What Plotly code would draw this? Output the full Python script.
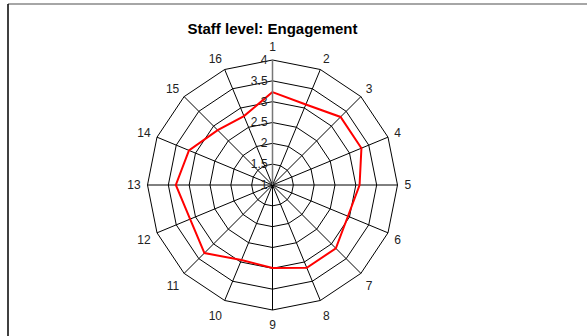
import plotly.graph_objects as go

# Engagement scores for the 16 staff-level items
items = [str(i) for i in range(1, 17)]
scores = [3.23, 3.09, 3.31, 3.31, 3.09, 2.96, 3.15, 3.15,
          2.99, 2.95, 3.31, 3.14, 3.32, 3.17, 2.86, 2.79]

# Radial scale ticks
radial_ticks = [1, 1.5, 2, 2.5, 3, 3.5, 4]
radial_labels = ["1", "1.5", "2", "2.5", "3", "3.5", "4"]

W, H = 587, 336
cx, cy, R = 272.5, 185, 125

fig = go.Figure()
fig.add_trace(go.Scatterpolar(
    r=scores + scores[:1],
    theta=items + items[:1],
    mode="lines",
    line=dict(color="#ff0000", width=2),
    hoverinfo="skip",
    showlegend=False,
))

fig.update_layout(
    width=W, height=H,
    margin=dict(l=0, r=0, t=0, b=0),
    paper_bgcolor="white",
    plot_bgcolor="white",
    font=dict(family="Liberation Sans, Arial, sans-serif", size=12, color="#222"),
    title=dict(
        text="<b>Staff level: Engagement</b>",
        x=cx / W, xanchor="center",
        y=1 - 29 / H, yanchor="middle",
        font=dict(size=15, color="black"),
    ),
    polar=dict(
        domain=dict(x=[(cx - R) / W, (cx + R) / W],
                    y=[1 - (cy + R) / H, 1 - (cy - R) / H]),
        bgcolor="white",
        gridshape="linear",
        angularaxis=dict(
            type="category",
            categoryorder="array",
            categoryarray=items,
            rotation=90,
            direction="clockwise",
            showline=True,
            linecolor="black",
            linewidth=1,
            showgrid=True,
            gridcolor="black",
            gridwidth=1,
            ticks="outside",
            ticklen=4,
            tickcolor="rgba(0,0,0,0)",
            tickfont=dict(size=12, color="#222"),
        ),
        radialaxis=dict(
            range=[1, 4],
            angle=90,
            side="counterclockwise",
            tickangle=90,
            tickvals=radial_ticks,
            ticktext=radial_labels,
            showline=True,
            linecolor="#777",
            linewidth=1.5,
            showgrid=True,
            gridcolor="black",
            gridwidth=1,
            ticks="",
            tickfont=dict(size=12, color="#222"),
        ),
    ),
    shapes=[
        dict(type="line", xref="paper", yref="paper",
             x0=8 / W, x1=1, y0=1 - 4 / H, y1=1 - 4 / H,
             line=dict(color="#888", width=1.5)),
        dict(type="line", xref="paper", yref="paper",
             x0=8 / W, x1=8 / W, y0=0, y1=1 - 4 / H,
             line=dict(color="black", width=1.5)),
    ],
)

fig.write_html("out.html")
